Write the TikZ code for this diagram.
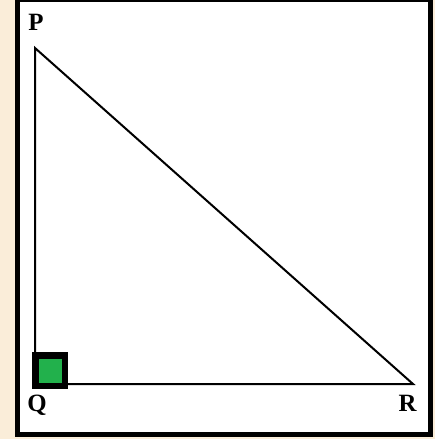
\documentclass[tikz,border=0pt]{standalone}
\usepackage{fontspec}
\setmainfont{Liberation Serif}
\usetikzlibrary{positioning}
\definecolor{paper}{RGB}{250,237,217}
\definecolor{boxgreen}{RGB}{34,177,76}

\begin{document}
\begin{tikzpicture}[
    x=1pt, y=-1pt,
    vertex/.style={font=\bfseries\Huge, inner sep=0pt},
    side/.style={line width=2pt, line join=miter},
]
% background and frame
\fill[paper] (0,0) rectangle (435,439);
\useasboundingbox (0,0) rectangle (435,439);
\draw[line width=5pt, fill=white] (17,-0.5) rectangle (430.5,434);
% corners
\coordinate (p) at (35,48);
\coordinate (q) at (35,384);
\coordinate (r) at (413,384);
% right angle mark
\draw[line width=6.5pt, fill=boxgreen] (35.25,385.75) rectangle (64.75,355.25);
% sides
\draw[side] (p) -- (q) -- (r) -- cycle;
% labels
\node[vertex] (plab) at (36,22.5) {P};
\node[vertex] (qlab) at (37,405) {Q};
\node[vertex] (rlab) at (407.5,403) {R};
\end{tikzpicture}
\end{document}
